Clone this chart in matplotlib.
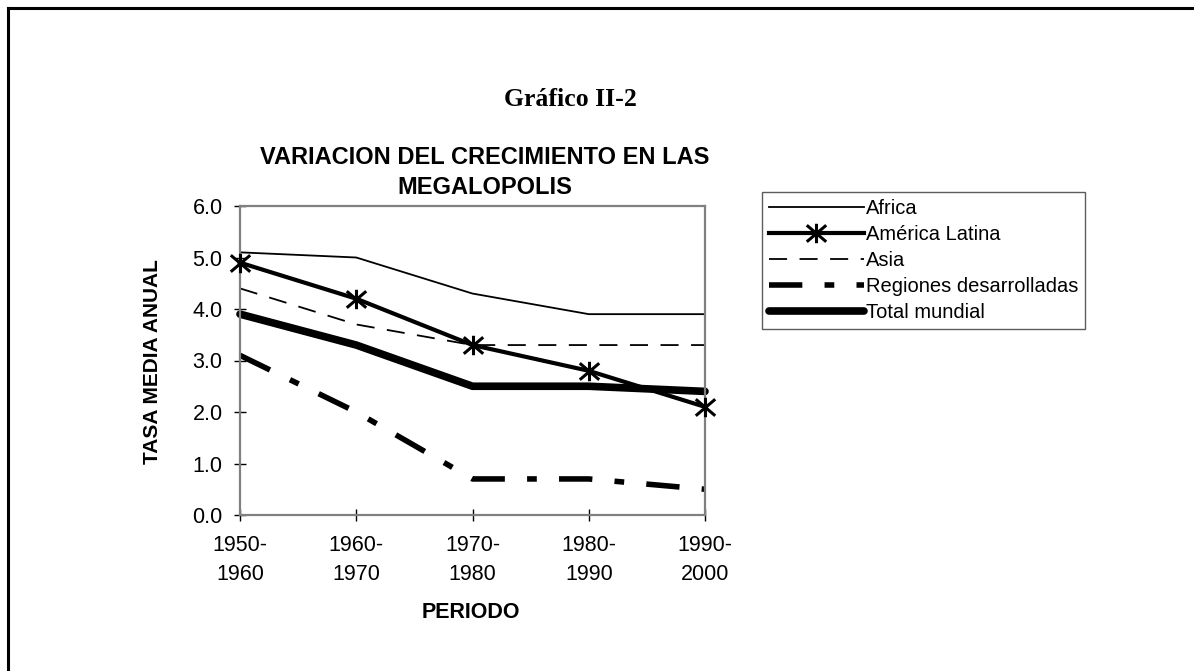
import matplotlib
matplotlib.use("Agg")
import matplotlib.pyplot as plt
from matplotlib.path import Path
from matplotlib.lines import Line2D
import numpy as np

plt.rcParams['lines.scale_dashes'] = False

periods = ["1950-\n1960", "1960-\n1970", "1970-\n1980", "1980-\n1990", "1990-\n2000"]
africa = [5.1, 5.0, 4.3, 3.9, 3.9]
america_latina = [4.9, 4.2, 3.3, 2.8, 2.1]
asia = [4.4, 3.7, 3.3, 3.3, 3.3]
regiones = [3.1, 2.0, 0.7, 0.7, 0.5]
total = [3.9, 3.3, 2.5, 2.5, 2.4]
yticks = [0, 1, 2, 3, 4, 5, 6]

W, H = 1194, 671
fig = plt.figure(figsize=(W / 100, H / 100), dpi=100)

# outer frame (top and left visible)
fig.add_artist(Line2D([7.5 / W, 1.0], [1 - 7.5 / H, 1 - 7.5 / H], color='black', lw=2.2))
fig.add_artist(Line2D([7.5 / W, 7.5 / W], [0, 1 - 7.5 / H], color='black', lw=2.2))

ax = fig.add_axes([240 / W, (H - 515) / H, 465 / W, 309 / H])
x = np.arange(len(periods))

star = Path([(-1, -0.85), (1, 0.85), (-1, 0.85), (1, -0.85), (0, -1.0), (0, 1.0)],
            [Path.MOVETO, Path.LINETO, Path.MOVETO, Path.LINETO, Path.MOVETO, Path.LINETO])

ax.plot(x, africa, color='black', lw=1.3, label='Africa', clip_on=False)
ax.plot(x, america_latina, color='black', lw=3.0, marker=star, markersize=14,
        markeredgewidth=2.2, markerfacecolor='none', label='América Latina', clip_on=False,
        zorder=3)
ax.plot(x, asia, color='black', lw=1.3, dashes=(13, 9), label='Asia', clip_on=False)
ax.plot(x, regiones, color='black', lw=4.0, dashes=(24, 16, 7, 16), dash_capstyle='butt',
        label='Regiones desarrolladas', clip_on=False)
ax.plot(x, total, color='black', lw=5.5, solid_capstyle='round', solid_joinstyle='round',
        label='Total mundial', clip_on=False)

ax.set_xlim(0, 4)
ax.set_ylim(0, 6)
ax.set_yticks(yticks)
ax.set_yticklabels([f"{v:.1f}" for v in yticks])
ax.set_xticks(x)
ax.set_xticklabels(periods, linespacing=1.5)
for sp in ax.spines.values():
    sp.set_color('#808080')
    sp.set_linewidth(1.6)
ax.tick_params(axis='both', direction='inout', length=9, width=1.0, color='black',
               labelsize=15.5, labelcolor='black')
ax.tick_params(axis='y', pad=8)
ax.tick_params(axis='x', pad=10)
for lab in ax.get_xticklabels() + ax.get_yticklabels():
    lab.set_family('Liberation Sans')

fig.text(152 / W, 1 - 362 / H, "TASA MEDIA ANUAL", family='Liberation Sans', fontweight='bold',
         fontsize=15, rotation=90, ha='center', va='center')
fig.text(471 / W, 1 - 613 / H, "PERIODO", family='Liberation Sans', fontweight='bold',
         fontsize=15.5, ha='center', va='center')

fig.text(570 / W, 1 - 100 / H, "Gráfico II-2", family='Liberation Serif', fontweight='bold',
         fontsize=18.5, ha='center', va='center')
fig.text(485 / W, 1 - 158 / H, "VARIACION DEL CRECIMIENTO EN LAS", family='Liberation Sans',
         fontweight='bold', fontsize=17, ha='center', va='center')
fig.text(485 / W, 1 - 187 / H, "MEGALOPOLIS", family='Liberation Sans',
         fontweight='bold', fontsize=17, ha='center', va='center')

leg = fig.legend(loc='upper left', bbox_to_anchor=(762 / W, 1 - 192 / H),
                 prop={'family': 'Liberation Sans', 'size': 14.5}, frameon=True,
                 fancybox=False, edgecolor='#333333', handlelength=4.7, handletextpad=0.1,
                 labelspacing=0.35, borderpad=0.35, borderaxespad=0)
leg.get_frame().set_linewidth(1.0)

fig.savefig("out.png", dpi=100)
